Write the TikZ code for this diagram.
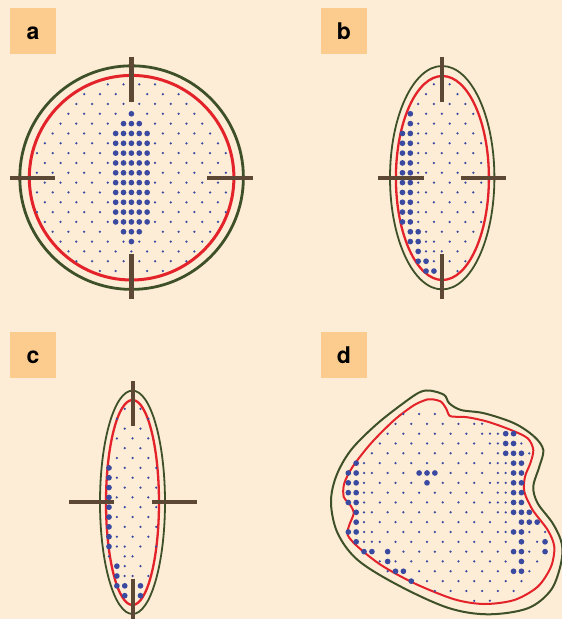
\documentclass[tikz,border=0pt]{standalone}
\usepackage{fontspec}
\setmainfont{TeX Gyre Heros}
\definecolor{bgc}{HTML}{FDECD6}
\definecolor{labc}{HTML}{FCCB8E}
\definecolor{barc}{HTML}{5C4835}
\definecolor{grnc}{HTML}{3E5028}
\definecolor{rdc}{HTML}{E3222A}
\definecolor{dotblue}{HTML}{3A4AA0}
\tikzset{
  labelbox/.style={fill=labc},
  crossbar/.style={draw=barc, line width=4.3pt},
  outerline/.style={draw=grnc},
  innerline/.style={draw=rdc},
  lab/.style={font=\fontsize{23}{23}\selectfont\bfseries, anchor=base, inner sep=0pt}
}
\newcommand\DotRow[3]{%
  \pgfmathtruncatemacro\DotN{((#3)-(#2))/2}%
  \foreach \i in {0,...,\DotN}{\fill[dotblue] ({\PX+((#2)+2*\i)*7.87},{\PY+(#1)*9.83}) circle[radius=1.25pt];}}
\newcommand\DotBig[2]{\fill[dotblue] ({\PX+(#2)*7.87},{\PY+(#1)*9.83}) circle[radius=2.85pt];}
\newcommand\DotOne[2]{\fill[dotblue] ({\PX+(#2)*7.87},{\PY+(#1)*9.83}) circle[radius=1.25pt];}
\begin{document}
\begin{tikzpicture}[x=1pt,y=-1pt]
\fill[bgc] (0,0) rectangle (562,619);
\useasboundingbox (0,0) rectangle (562,619);

% labels
\fill[labelbox] (10,8) rectangle (56,53.7);
\fill[labelbox] (321,8) rectangle (367,53.7);
\fill[labelbox] (10,332) rectangle (56,378);
\fill[labelbox] (321,332) rectangle (367,378);
\node[lab] (la) at (33,39.5) {a};
\node[lab] (lb) at (344,39.5) {b};
\node[lab] (lc) at (33,363.5) {c};
\node[lab] (ld) at (344,363.5) {d};

% ---------- panel a ----------
\draw[outerline, line width=2.8pt] (131.6,177.6) circle[radius=111.8pt];
\draw[innerline, line width=3pt] (131.6,177.7) circle[radius=102.3pt];
\def\PX{131.4}\def\PY{84.3}
\foreach \r/\m in {0/3,1/6,2/7,3/8,4/9,5/10,6/11,7/12,8/11,9/12,10/11,11/12,12/11,13/12,14/11,16/9,17/8,18/7,19/4}{\DotRow{\r}{-\m}{\m}}
\DotRow{15}{-10}{-4}\DotRow{15}{4}{10}
\foreach \r in {5,...,14}{\foreach \k in {-2,...,2}{\DotBig{\r}{\k}}}
\foreach \r/\k in {3/0,4/-1,4/0,4/1,15/-1,15/0,15/1,16/0}{\DotBig{\r}{\k}}
\draw[crossbar] (131.4,56.7) -- (131.4,101.7);
\draw[crossbar] (131.4,254.3) -- (131.4,299.3);
\draw[crossbar] (10,177.7) -- (55,177.7);
\draw[crossbar] (207.3,177.7) -- (252.7,177.7);

% ---------- panel b ----------
\draw[outerline, line width=1.8pt] (442.2,177.7) ellipse[x radius=52.2pt, y radius=111.7pt];
\draw[innerline, line width=2.3pt] (442.4,178) ellipse[x radius=46.5pt, y radius=102pt];
\def\PX{441.8}\def\PY{84.3}
\foreach \r/\m in {0/1,1/2,2/3,3/4,4/3,5/4,6/5,7/4,8/5,9/4,10/5,11/4,12/5,13/4,14/5,15/4,16/3,17/2,18/3,19/2}{\DotRow{\r}{-\m}{\m}}
\foreach \r/\k in {5/-3,7/-3,9/-3,11/-3,13/-3,16/-2,17/-1}{\DotOne{\r}{\k}}
\foreach \r in {5,...,14}{\DotBig{\r}{-5}\DotBig{\r}{-4}}
\foreach \r/\k in {3/-4,4/-4,15/-4,15/-3,16/-4,16/-3,17/-3,18/-3,18/-2,19/-2,19/-1}{\DotBig{\r}{\k}}
\draw[crossbar] (442,56.7) -- (442,101.7);
\draw[crossbar] (442,254.3) -- (442,299.3);
\draw[crossbar] (378,177.7) -- (423.7,177.7);
\draw[crossbar] (461,177.7) -- (506.3,177.7);

% ---------- panel c ----------
\draw[outerline, line width=1.8pt] (132.5,502.3) ellipse[x radius=32.5pt, y radius=111.7pt];
\draw[innerline, line width=2.3pt] (132.5,502.5) ellipse[x radius=26.5pt, y radius=102.5pt];
\def\PX{132.6}\def\PY{408.9}
\foreach \r/\a/\b in {0/-1/1,1/-2/2,2/-1/1,3/-2/2,4/-1/1,5/-2/2,6/-1/3,7/-2/2,8/-1/3,9/-2/2,10/-1/3,11/-2/2,12/-1/3,13/-2/2,14/-1/3}{\DotRow{\r}{\a}{\b}}
\foreach \r/\k in {14/-2,15/-3,15/-1,15/0,16/-1,16/1,17/-1,17/0,17/2}{\DotOne{\r}{\k}}
\foreach \r in {6,...,14}{\DotBig{\r}{-3}}
\foreach \r/\k in {16/-2,17/-2,18/-2,18/-1,18/1,19/-1,19/1}{\DotBig{\r}{\k}}
\draw[crossbar] (132.7,381) -- (132.7,426);
\draw[crossbar] (132.7,578.7) -- (132.7,623);
\draw[crossbar] (69,502.3) -- (114.3,502.3);
\draw[crossbar] (151.7,502.3) -- (197,502.3);

% ---------- panel d ----------
\draw[outerline, line width=2pt] plot[smooth cycle, tension=0.55] coordinates {
 (431,390.7) (444.3,395) (449.3,403.3) (461,410) (484.3,413.3) (514.3,423.3)
 (534.3,436.7) (543.3,450) (539.3,466.7) (533.3,486.7) (537.7,503.3) (552.7,523.3)
 (561.7,543.3) (561,563.3) (551,590) (527.7,608.3) (487.7,614.3) (447.7,607.7)
 (397.7,585) (357.7,560) (337.7,533.3) (331,503.3) (336,476.7) (351,450)
 (377.7,423.3) (407.7,400) (421,391.7)};
\draw[innerline, line width=2pt] plot[smooth cycle, tension=0.5] coordinates {
 (432.7,399.3) (441,401.7) (446,408.3) (449.3,415.5) (454.3,416.7) (467.7,417.3)
 (487.7,421.7) (511,430) (527.7,438.3) (533.3,450) (530.3,463.3) (525,476.7)
 (524.3,491.7) (532.7,510) (547.7,530) (554.3,546.7) (551,566.7) (537.7,586.7)
 (514.3,600) (484.3,604) (454.3,599.3) (414.3,583.3) (381,565) (357.7,546.7)
 (347.7,535) (349.3,525) (353.7,513.3) (350.3,505) (343.7,496.7) (344.3,483.3)
 (352.7,466.7) (371,443.3) (394.3,420) (414.3,405) (427.7,399.3)};
\def\PX{427}\def\PY{414}
\foreach \r/\a/\b in {0/-3/1,1/-4/6,2/-5/9,3/-6/12,4/-7/13,5/-8/10,6/-7/9,7/-8/10,8/-7/9,9/-8/10,10/-7/9,11/-8/10,12/-7/15,13/-8/14,14/-7/13,15/-6/14,16/-5/13,17/-2/12,18/1/11,19/6/8}{\DotRow{\r}{\a}{\b}}
\foreach \r/\k in {1/7,2/8,3/9,5/9,6/10,7/9,8/10,9/9,10/10,12/10,6/-8,8/-8,10/-8,12/-8,13/-7}{\DotOne{\r}{\k}}
\foreach \r/\k in {5/-9,6/-10,6/-9,7/-10,7/-9,8/-10,8/-9,9/-10,9/-9,10/-9,11/-9,12/-10,12/-9,13/-9,
  14/-8,14/-7,14/-5,15/-5,16/-4,16/-3,17/-2,6/-1,6/0,6/1,7/0,
  2/10,2/11,3/10,3/11,4/10,4/11,4/12,5/11,5/12,6/11,6/12,7/11,7/12,8/11,8/12,9/11,9/12,
  10/11,10/12,10/13,11/12,11/13,11/14,12/11,12/12,13/12,13/15,14/11,14/12,14/15,15/12,16/11,16/12}{\DotBig{\r}{\k}}
\end{tikzpicture}
\end{document}
